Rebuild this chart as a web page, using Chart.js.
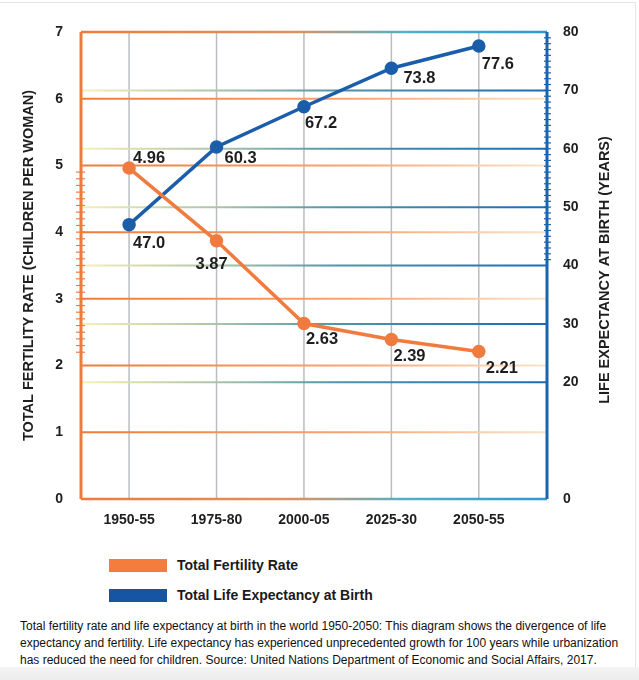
<!DOCTYPE html>
<html>
<head>
<meta charset="utf-8">
<script src="https://cdn.jsdelivr.net/npm/chart.js@4.4.1/dist/chart.umd.min.js"></script>
<style>
  html, body { margin: 0; padding: 0; background: #fff; }
  body { width: 639px; height: 680px; position: relative; overflow: hidden; font-family: "Liberation Sans", Arial, sans-serif; }
  #frame { position: absolute; left: 0; top: 2px; width: 635px; height: 664px; border-top: 1px solid #e6e6e6; border-right: 1px solid #e6e6e6; }
  #foot { position: absolute; left: 0; top: 667px; width: 639px; height: 13px; background: linear-gradient(#f4f4f4, #ececec); }
  #wrap { position: absolute; left: 0; top: 0; width: 639px; height: 540px; }
  .leg { position: absolute; left: 109px; font-weight: bold; font-size: 14px; color: #1a1a1a; }
  .leg span { position: absolute; left: 0; width: 58px; height: 13px; }
  .leg b { position: absolute; left: 68px; white-space: nowrap; top: -2px; }
  #caption { position: absolute; left: 20px; top: 618px; font-size: 12px; line-height: 17px; color: #111; white-space: nowrap; }
</style>
</head>
<body>
<div id="frame"></div>
<div id="foot"></div>
<div id="wrap"><canvas id="myChart" width="639" height="540"></canvas></div>
<div class="leg" style="top:559px"><span style="background:#f47c3c"></span><b>Total Fertility Rate</b></div>
<div class="leg" style="top:589px"><span style="background:#1655a3"></span><b>Total Life Expectancy at Birth</b></div>
<div id="caption">Total fertility rate and life expectancy at birth in the world 1950-2050: This diagram shows the divergence of life<br>expectancy and fertility. Life expectancy has experienced unprecedented growth for 100 years while urbanization<br>has reduced the need for children. Source: United Nations Department of Economic and Social Affairs, 2017.</div>

<script>
const periods = ['1950-55', '1975-80', '2000-05', '2025-30', '2050-55'];
const fertility = [4.96, 3.87, 2.63, 2.39, 2.21];
const lifeExp = [47.0, 60.3, 67.2, 73.8, 77.6];
const fertLabels = ['4.96', '3.87', '2.63', '2.39', '2.21'];
const lifeLabels = ['47.0', '60.3', '67.2', '73.8', '77.6'];
const leftTicks = [0, 1, 2, 3, 4, 5, 6, 7];
const rightTicks = [0, 20, 30, 40, 50, 60, 70, 80];
const rightTitle = 'LIFE EXPECTANCY AT BIRTH (YEARS)';

const orange = '#f07b3f';
const blue = '#1a5daa';

// label offsets from the point (left x, baseline y)
const fertOffsets = [[4, -5], [-21, 28], [2, 20], [2, 21], [7, 21]];
const lifeOffsets = [[4, 23], [8, 16], [1, 21], [12, 15], [3, 23]];

const ctx = document.getElementById('myChart');
const fam = '"Liberation Sans", Arial, sans-serif';

function lineGrad(c, x0, x1, stops) {
  const g = c.createLinearGradient(x0, 0, x1, 0);
  stops.forEach(s => g.addColorStop(s[0], s[1]));
  return g;
}

const gridPlugin = {
  id: 'grid',
  beforeDatasetsDraw(chart) {
    const c = chart.ctx;
    const a = chart.chartArea;
    const x = chart.scales.x, yl = chart.scales.y, yr = chart.scales.y2;
    c.save();
    // vertical grey lines
    c.strokeStyle = '#b9bdc1';
    c.lineWidth = 1.5;
    periods.forEach((p, i) => {
      const px = x.getPixelForValue(i);
      c.beginPath(); c.moveTo(px, a.top); c.lineTo(px, a.bottom); c.stroke();
    });
    // orange lines on the fertility axis
    c.lineWidth = 2;
    c.strokeStyle = lineGrad(c, a.left, a.right, [[0, '#f07a3a'], [0.6, '#f6a676'], [1, '#fde3c8']]);
    for (let v = 1; v <= 6; v++) {
      const py = yl.getPixelForValue(v);
      c.beginPath(); c.moveTo(a.left, py); c.lineTo(a.right, py); c.stroke();
    }
    // blue lines on the life axis
    c.strokeStyle = lineGrad(c, a.left, a.right, [[0, '#f8f0b4'], [0.3, '#a8c2a8'], [0.55, '#4f95a9'], [1, '#1a6cb8']]);
    for (let v = 20; v <= 70; v += 10) {
      const py = yr.getPixelForValue(v);
      c.beginPath(); c.moveTo(a.left, py); c.lineTo(a.right, py); c.stroke();
    }
    // frame
    c.lineWidth = 2.5;
    c.strokeStyle = lineGrad(c, a.left, a.right, [[0, '#f07a3a'], [0.45, '#e09060'], [0.7, '#4fb0c8'], [1, '#2a9ad2']]);
    c.beginPath(); c.moveTo(a.left, a.top); c.lineTo(a.right, a.top); c.stroke();
    c.beginPath(); c.moveTo(a.left, a.bottom); c.lineTo(a.right, a.bottom); c.stroke();
    c.lineWidth = 3;
    c.strokeStyle = '#f07a3a';
    c.beginPath(); c.moveTo(a.left, a.top); c.lineTo(a.left, a.bottom); c.stroke();
    c.strokeStyle = '#1a64b0';
    c.beginPath(); c.moveTo(a.right, a.top); c.lineTo(a.right, a.bottom); c.stroke();
    // small ticks on both axes
    c.lineWidth = 1.2;
    c.strokeStyle = '#f07a3a';
    for (let v = 22; v <= 49; v++) {
      const py = yl.getPixelForValue(v / 10);
      c.beginPath(); c.moveTo(a.left - 5, py); c.lineTo(a.left + 4, py); c.stroke();
    }
    c.strokeStyle = '#1a64b0';
    for (let v = 41; v <= 79; v++) {
      const py = yr.getPixelForValue(v);
      c.beginPath(); c.moveTo(a.right - 3, py); c.lineTo(a.right + 4, py); c.stroke();
    }
    c.restore();
  },
  afterDatasetsDraw(chart) {
    const c = chart.ctx;
    c.save();
    c.font = 'bold 16.5px ' + fam;
    c.fillStyle = '#1e1e1e';
    c.textBaseline = 'alphabetic';
    chart.getDatasetMeta(0).data.forEach((pt, i) => {
      c.fillText(fertLabels[i], pt.x + fertOffsets[i][0], pt.y + fertOffsets[i][1]);
    });
    chart.getDatasetMeta(1).data.forEach((pt, i) => {
      c.fillText(lifeLabels[i], pt.x + lifeOffsets[i][0], pt.y + lifeOffsets[i][1]);
    });
    // right axis title reads bottom to top
    c.translate(605, 270);
    c.rotate(-Math.PI / 2);
    c.font = 'bold 14.5px ' + fam;
    c.textAlign = 'center';
    c.textBaseline = 'middle';
    c.fillText(rightTitle, 0, 0);
    c.restore();
  }
};

const tickFont = { family: fam, size: 14, weight: 'bold' };
const titleFont = { family: fam, size: 14.5, weight: 'bold' };

new Chart(ctx, {
  type: 'line',
  data: {
    datasets: [{
      label: 'Total Fertility Rate',
      data: fertility.map((v, i) => ({ x: i, y: v })),
      borderColor: orange,
      backgroundColor: orange,
      borderWidth: 3.5,
      pointRadius: 5,
      yAxisID: 'y'
    }, {
      label: 'Total Life Expectancy at Birth',
      data: lifeExp.map((v, i) => ({ x: i, y: v })),
      borderColor: blue,
      backgroundColor: blue,
      borderWidth: 3.5,
      pointRadius: 5,
      yAxisID: 'y2'
    }]
  },
  options: {
    responsive: false,
    animation: false,
    devicePixelRatio: 1,
    layout: { padding: { top: 32, left: 20, right: 26, bottom: 0 } },
    plugins: { legend: { display: false }, tooltip: { enabled: false } },
    scales: {
      x: {
        type: 'linear',
        min: -0.55,
        max: 4.78,
        grid: { display: false, drawTicks: false },
        border: { display: false },
        afterBuildTicks: s => { s.ticks = periods.map((p, i) => ({ value: i })); },
        afterFit: s => { s.height = 41; },
        ticks: {
          padding: 13,
          color: '#1e1e1e',
          font: tickFont,
          maxRotation: 0,
          autoSkip: false,
          callback: v => periods[v]
        }
      },
      y: {
        position: 'left',
        min: 0,
        max: 7,
        grid: { display: false, drawTicks: false },
        border: { display: false },
        afterBuildTicks: s => { s.ticks = leftTicks.map(v => ({ value: v })); },
        afterFit: s => { s.width = 61; },
        ticks: { padding: 18, color: '#1e1e1e', font: tickFont },
        title: {
          display: true,
          text: 'TOTAL FERTILITY RATE (CHILDREN PER WOMAN)',
          color: '#1e1e1e',
          font: titleFont,
          padding: 0
        }
      },
      y2: {
        position: 'right',
        min: 0,
        max: 80,
        grid: { display: false, drawTicks: false },
        border: { display: false },
        afterBuildTicks: s => { s.ticks = rightTicks.map(v => ({ value: v })); },
        afterFit: s => { s.width = 66; },
        ticks: { padding: 16, color: '#1e1e1e', font: tickFont }
      }
    }
  },
  plugins: [gridPlugin]
});
</script>
</body>
</html>
